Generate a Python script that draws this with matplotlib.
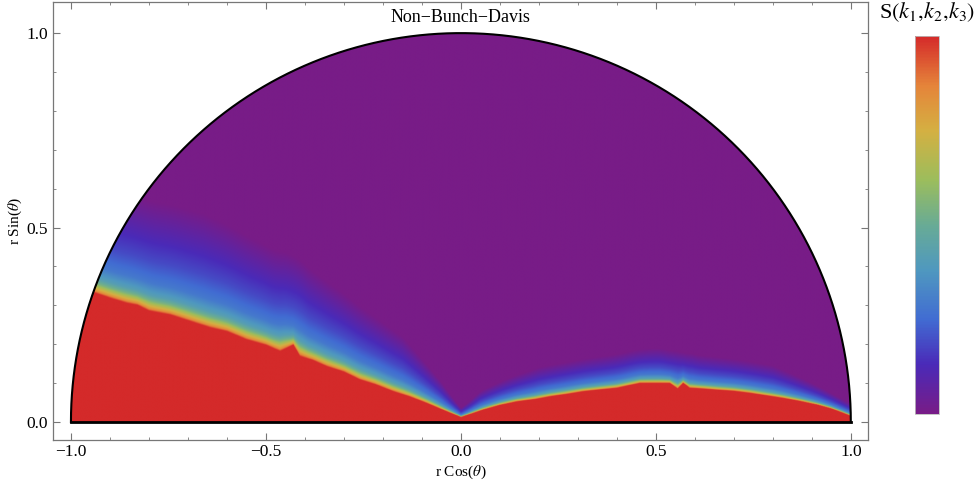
#%% Import modules
import numpy as np
import matplotlib
matplotlib.use('Agg')
import matplotlib.pyplot as plt
from matplotlib.colors import LinearSegmentedColormap
from matplotlib.patches import Wedge
from matplotlib.ticker import MultipleLocator

plt.rcParams['font.family'] = ['Liberation Serif', 'DejaVu Serif']
plt.rcParams['mathtext.fontset'] = 'stix'

#%% Data
# upper edge of the saturated (red) region, x -> y
edge_x = [-1.0, -0.938, -0.9, -0.857, -0.83, -0.8, -0.746, -0.7, -0.644, -0.6, -0.55,
          -0.5, -0.464, -0.43, -0.413, -0.38, -0.344, -0.3, -0.259, -0.22, -0.174,
          -0.13, -0.088, -0.045, 0.0, 0.057, 0.1, 0.143, 0.19, 0.228, 0.27, 0.313,
          0.36, 0.4, 0.459, 0.536, 0.556, 0.57, 0.587, 0.62, 0.656, 0.7, 0.741,
          0.78, 0.826, 0.87, 0.913, 0.95, 0.98, 1.0]
edge_y = [0.34, 0.331, 0.318, 0.305, 0.30, 0.285, 0.275, 0.26, 0.242, 0.232, 0.211,
          0.197, 0.181, 0.198, 0.168, 0.158, 0.142, 0.128, 0.108, 0.096, 0.078,
          0.064, 0.048, 0.03, 0.012, 0.031, 0.043, 0.052, 0.058, 0.065, 0.071, 0.078,
          0.083, 0.087, 0.0995, 0.0995, 0.085, 0.10, 0.087, 0.085, 0.082, 0.079, 0.074,
          0.068, 0.061, 0.053, 0.044, 0.034, 0.023, 0.015]

# thickness of the fade from red to purple above that edge
fade_x = [-1.0, -0.9, -0.66, -0.4, -0.15, -0.05, 0.0, 0.05, 0.2, 0.5, 0.8, 0.95, 1.0]
fade_w = [0.28, 0.28, 0.29, 0.24, 0.15, 0.07, 0.02, 0.05, 0.08, 0.09, 0.08, 0.04, 0.03]

# value against distance above the edge (in units of the fade thickness)
profile_s = [0.0, 0.02, 0.05, 0.09, 0.14, 0.25, 0.45, 0.65, 0.85, 1.0]
profile_v = [1.0, 0.85, 0.72, 0.55, 0.42, 0.29, 0.19, 0.12, 0.05, 0.0]

# colour scale, purple (low) to red (high)
cmap_pos = [0.0, 0.13, 0.25, 0.38, 0.5, 0.62, 0.75, 0.87, 1.0]
cmap_col = ['#781c87', '#4a2ab8', '#416cd2', '#4f98bf', '#68ab95', '#9cbd5c',
            '#d4b042', '#e5843a', '#d42a2a']

title = 'Non\u2212Bunch\u2212Davis'
cbar_label = r'S$(k_1,\!k_2,\!k_3)$'

#%% Build field
rainbow = LinearSegmentedColormap.from_list('rainbow_m', list(zip(cmap_pos, cmap_col)))

xs = np.linspace(-1, 1, 1400)
ys = np.linspace(0, 1, 700)
edge_line = np.interp(xs, edge_x, edge_y)
kernel = np.ones(41) / 41
edge_smooth = np.convolve(np.pad(edge_line, 20, mode='edge'), kernel, mode='valid')

X, Y = np.meshgrid(xs, ys)
edge = edge_line[None, :]
smooth = edge_smooth[None, :]
width = np.interp(X, fade_x, fade_w)
# local jaggedness of the edge only matters close to it
ref = smooth + (edge - smooth) * np.exp(-np.clip(Y - edge, 0, None) / 0.03)
s = np.clip(Y - ref, 0, None) / width
field = np.where(Y <= edge, 1.0, np.interp(s, profile_s, profile_v))

#%% Plot
fig = plt.figure(figsize=(9.78, 4.86), dpi=100)
ax = fig.add_axes([0.0542, 0.0947, 0.8333, 0.9012])

im = ax.imshow(field, extent=(-1, 1, 0, 1), origin='lower', cmap=rainbow,
               vmin=0, vmax=1, interpolation='bilinear', aspect='auto')
half_disc = Wedge((0, 0), 1, 0, 180, transform=ax.transData, facecolor='none')
im.set_clip_path(half_disc)

theta = np.linspace(0, np.pi, 400)
ax.plot(np.cos(theta), np.sin(theta), color='black', lw=1.5)
ax.plot([-1, 1], [0, 0], color='black', lw=2)

ax.set_xlim(-1.046, 1.044)
ax.set_ylim(-0.046, 1.08)
ax.xaxis.set_major_locator(MultipleLocator(0.5))
ax.xaxis.set_minor_locator(MultipleLocator(0.1))
ax.yaxis.set_major_locator(MultipleLocator(0.5))
ax.yaxis.set_minor_locator(MultipleLocator(0.1))
ax.tick_params(which='both', direction='in', top=True, right=True,
               labelsize=12.5, color='#777777')
ax.tick_params(axis='x', pad=3)
ax.tick_params(which='major', length=5, width=0.8)
ax.tick_params(which='minor', length=2.5, width=0.6)
for sp in ax.spines.values():
    sp.set_color('#777777')
    sp.set_linewidth(0.9)

ax.set_xlabel(r'r Cos($\theta$)', fontsize=11)
ax.set_ylabel(r'r Sin($\theta$)', fontsize=11)
ax.xaxis.set_label_coords(0.5, -0.055)
ax.yaxis.set_label_coords(-0.035, 0.5)
ax.text(0, 1.04, title, ha='center', va='center', fontsize=13)

cax = fig.add_axes([915 / 978, 72 / 486, 24 / 978, 378 / 486])
cb = fig.colorbar(im, cax=cax)
cb.set_ticks([])
cb.outline.set_edgecolor('#bbbbbb')
cb.outline.set_linewidth(0.6)
fig.text(927 / 978, 1 - 12 / 486, cbar_label, ha='center', va='center', fontsize=16)

fig.savefig('out.png', dpi=100)
